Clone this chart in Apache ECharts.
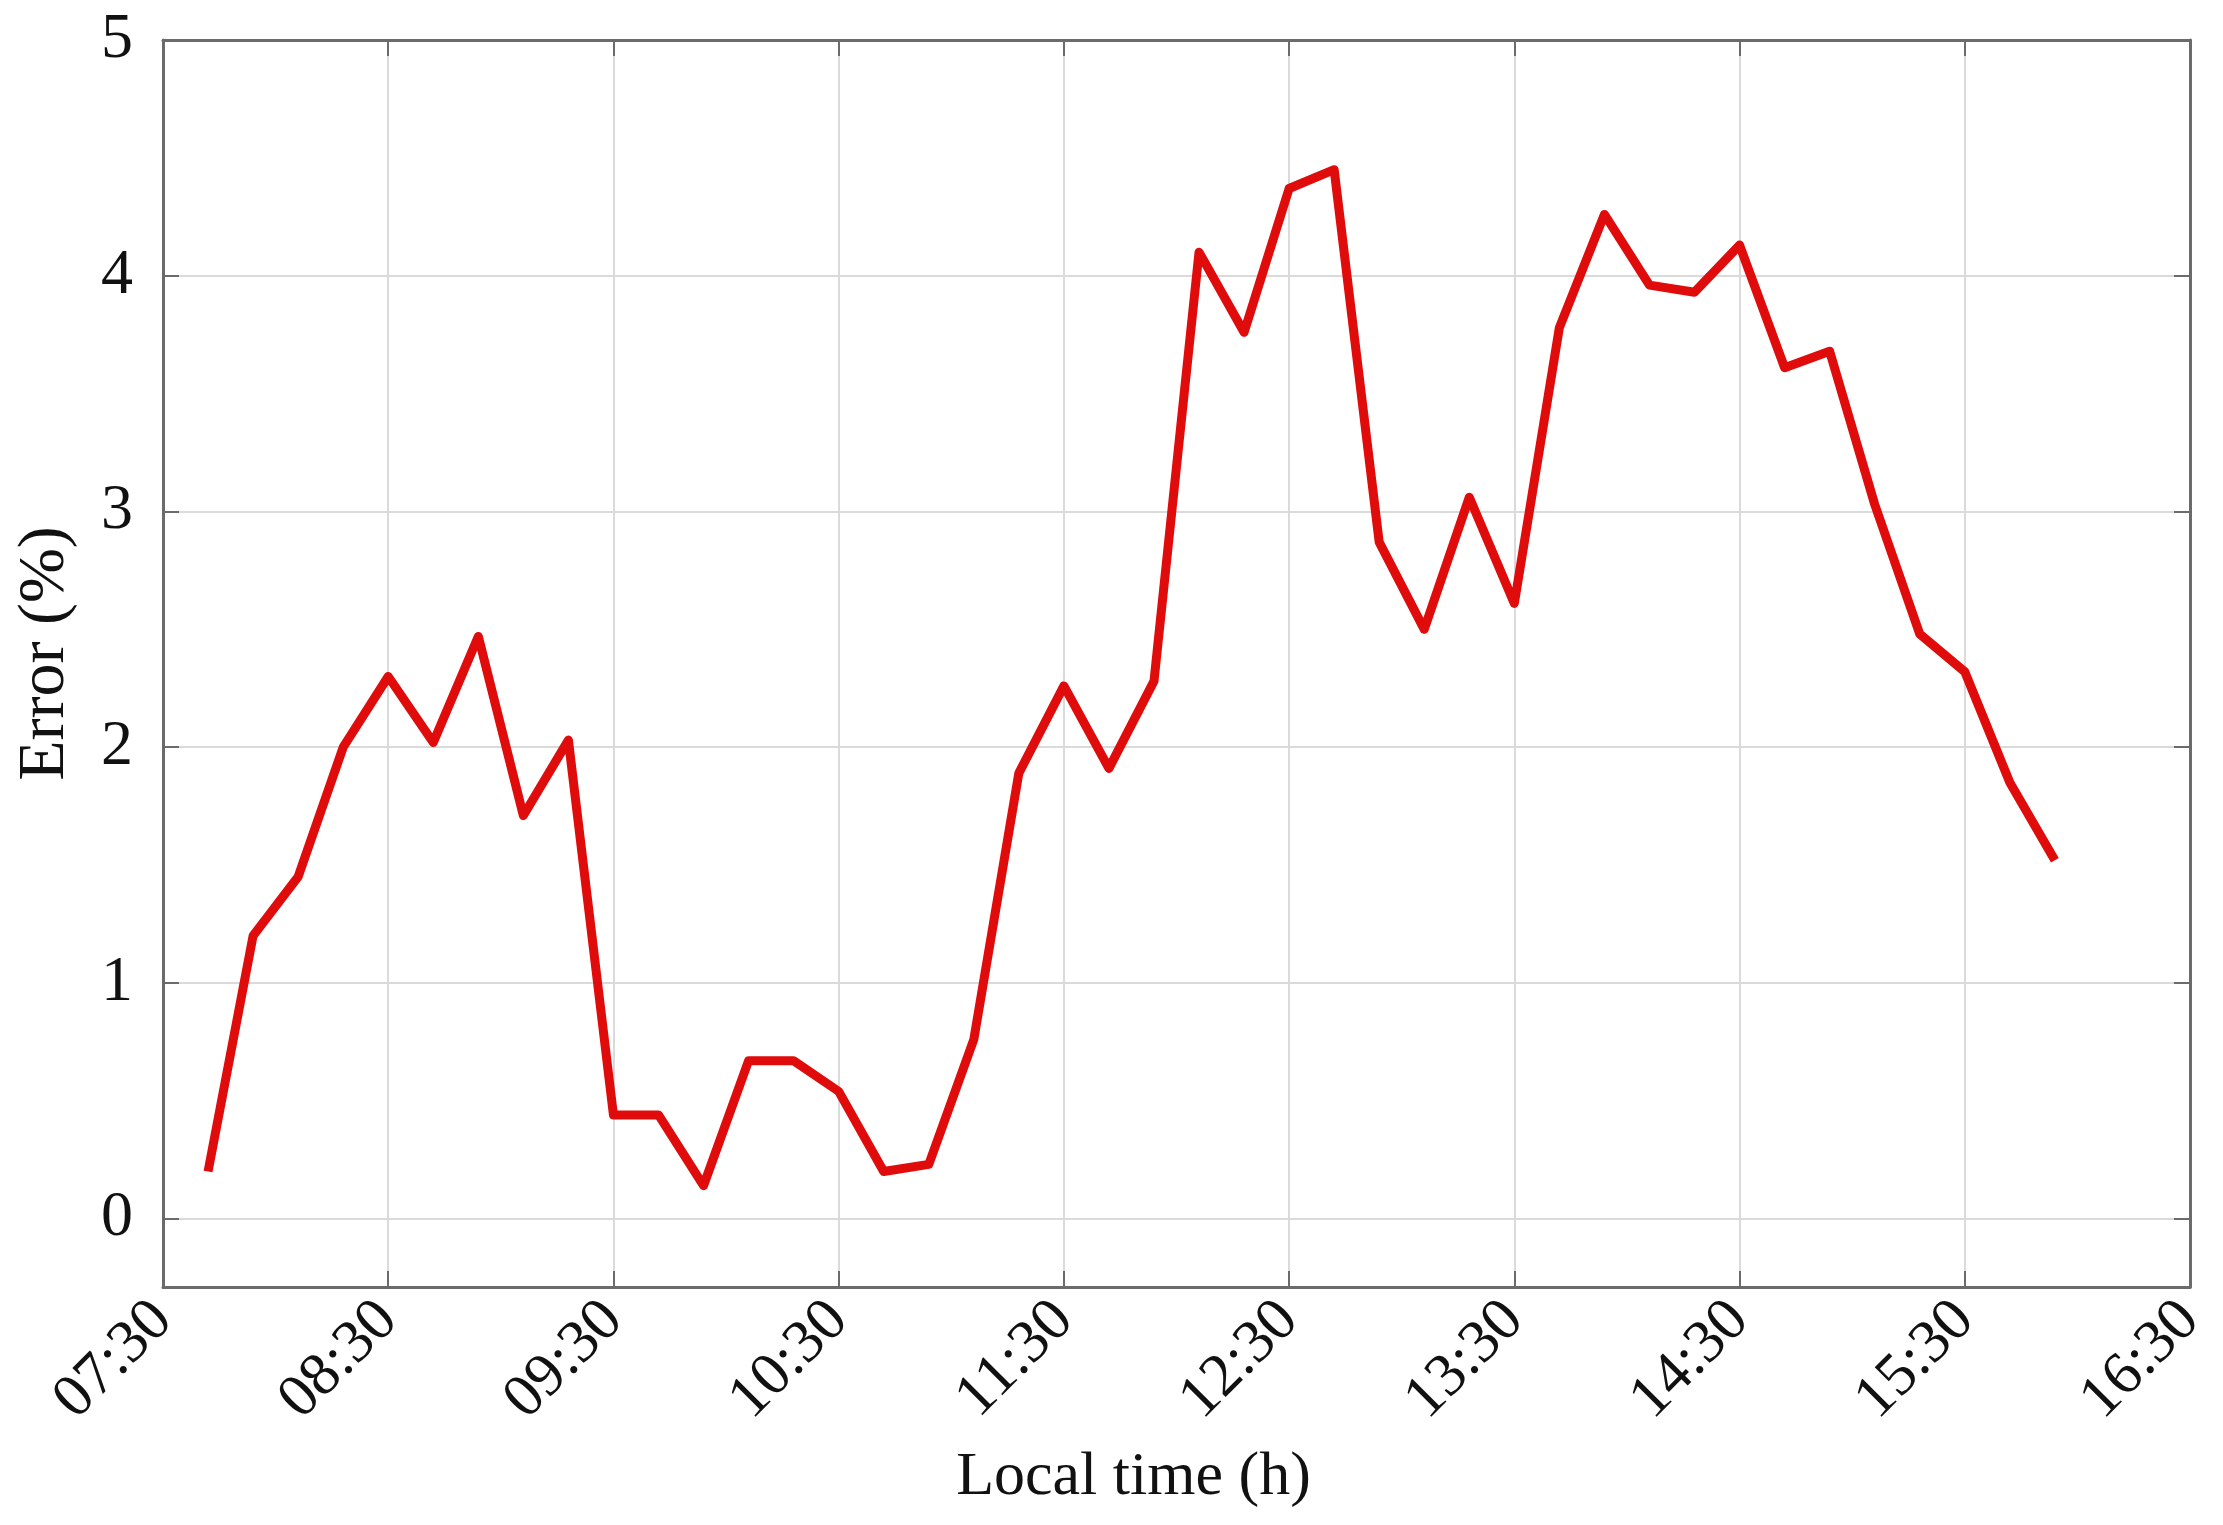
<!DOCTYPE html>
<html>
<head>
<meta charset="utf-8">
<script src="https://cdn.jsdelivr.net/npm/echarts@6/dist/echarts.min.js"></script>
<style>
html,body{margin:0;padding:0;background:#fff;}
#chart{width:2223px;height:1525px;}
</style>
</head>
<body>
<div id="chart"></div>
<script>
// ---- data ----
const times = ['07:42','07:54','08:06','08:18','08:30','08:42','08:54','09:06','09:18','09:30',
  '09:42','09:54','10:06','10:18','10:30','10:42','10:54','11:06','11:18','11:30',
  '11:42','11:54','12:06','12:18','12:30','12:42','12:54','13:06','13:18','13:30',
  '13:42','13:54','14:06','14:18','14:30','14:42','14:54','15:06','15:18','15:30',
  '15:42','15:54'];
const errorValues = [0.20,1.20,1.45,2.00,2.30,2.02,2.47,1.71,2.03,0.44,
  0.44,0.14,0.67,0.67,0.54,0.20,0.23,0.76,1.89,2.26,
  1.91,2.28,4.10,3.76,4.37,4.45,2.87,2.50,3.06,2.61,
  3.78,4.26,3.96,3.93,4.13,3.61,3.68,3.03,2.48,2.32,
  1.85,1.52];
const xTickLabels = ['07:30','08:30','09:30','10:30','11:30','12:30','13:30','14:30','15:30','16:30'];
const yTickValues = [0,1,2,3,4,5];
const xAxisName = 'Local time (h)';
const yAxisName = 'Error (%)';

// minutes since the first tick label (07:30)
function toMin(s){const p=s.split(':');return (+p[0])*60+(+p[1]);}
const origin = toMin(xTickLabels[0]);
const xMax = toMin(xTickLabels[xTickLabels.length-1]) - origin;
const seriesData = times.map((t,i)=>[toMin(t)-origin, errorValues[i]]);

const FONT = "'Liberation Serif','Times New Roman',serif";
const AXIS_COLOR = '#6b6b6b';
const GRID_COLOR = '#dadada';

const chart = echarts.init(document.getElementById('chart'), null, {renderer:'canvas'});
const yMin = -0.29, yMax = 5;

chart.setOption({
  backgroundColor:'#ffffff',
  animation:false,
  grid:{left:163,right:33,top:40,bottom:238,containLabel:false},
  xAxis:[{
    type:'value', position:'bottom', min:0, max:xMax, interval:60,
    name:xAxisName, nameLocation:'middle', nameGap:160,
    nameTextStyle:{fontFamily:FONT,fontSize:62,color:'#111',padding:[0,86,0,0]},
    axisLine:{show:true,onZero:false,lineStyle:{color:AXIS_COLOR,width:3}},
    axisTick:{show:true,inside:true,length:16,lineStyle:{color:AXIS_COLOR,width:2}},
    axisLabel:{show:true,rotate:45,margin:24,fontFamily:FONT,fontSize:61,color:'#111',
      formatter:(v)=>xTickLabels[Math.round(v/60)]},
    splitLine:{show:true,lineStyle:{color:GRID_COLOR,width:2}}
  },{
    type:'value', position:'top', min:0, max:xMax, interval:60,
    axisLine:{show:true,onZero:false,lineStyle:{color:AXIS_COLOR,width:3}},
    axisTick:{show:true,inside:true,length:16,lineStyle:{color:AXIS_COLOR,width:2}},
    axisLabel:{show:false}, splitLine:{show:false}
  }],
  yAxis:[{
    type:'value', position:'left', min:yMin, max:yMax,
    name:yAxisName, nameLocation:'middle', nameGap:84, nameRotate:90,
    nameTextStyle:{fontFamily:FONT,fontSize:66,color:'#111',padding:[0,0,0,20]},
    axisLine:{show:true,onZero:false,lineStyle:{color:AXIS_COLOR,width:3}},
    axisTick:{show:true,inside:true,length:16,customValues:yTickValues,lineStyle:{color:AXIS_COLOR,width:2}},
    axisLabel:{show:true,margin:30,fontFamily:FONT,fontSize:64,color:'#111',customValues:yTickValues,
      formatter:(v)=>String(v)},
    splitLine:{show:true,lineStyle:{color:GRID_COLOR,width:2}}
  },{
    type:'value', position:'right', min:yMin, max:yMax,
    axisLine:{show:true,onZero:false,lineStyle:{color:AXIS_COLOR,width:3}},
    axisTick:{show:true,inside:true,length:16,customValues:yTickValues,lineStyle:{color:AXIS_COLOR,width:2}},
    axisLabel:{show:false}, splitLine:{show:false}
  }],
  series:[{
    type:'line', xAxisIndex:0, yAxisIndex:0,
    data:seriesData, showSymbol:false, symbol:'none',
    lineStyle:{color:'#e00b0b',width:9,join:'round',cap:'butt'},
    z:5
  }]
});
</script>
</body>
</html>
